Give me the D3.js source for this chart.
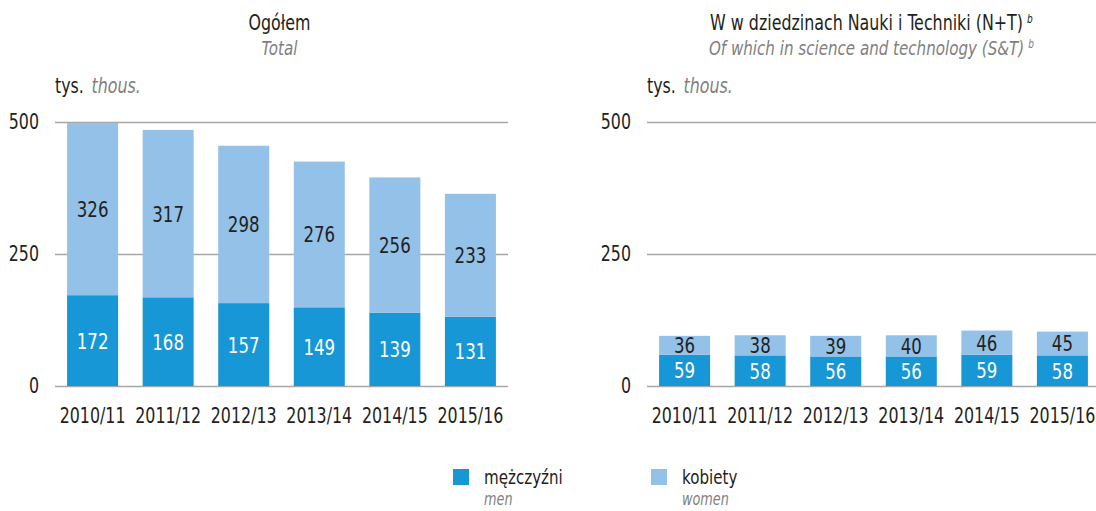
<!DOCTYPE html>
<html>
<head>
<meta charset="utf-8">
<script src="https://cdn.jsdelivr.net/npm/d3@7"></script>
<style>
  body { margin: 0; background: #fff; }
  text { font-family: "DejaVu Sans Condensed", "Liberation Sans Narrow", sans-serif; }
</style>
</head>
<body>
<div class="graph"></div>
<script>
// data
var years = ['2010/11', '2011/12', '2012/13', '2013/14', '2014/15', '2015/16'];
var totalMen = [172, 168, 157, 149, 139, 131];
var totalWomen = [326, 317, 298, 276, 256, 233];
var stMen = [59, 58, 56, 56, 59, 58];
var stWomen = [36, 38, 39, 40, 46, 45];
var yTicks = [0, 250, 500];

var darkBlue = '#1797d6', lightBlue = '#93c1e7';
var ink = '#231f20', grey = '#808080';

// condensed look: squeeze text horizontally
var sx = 0.84
function pos(x, y) { return 'translate(' + x + ',' + y + ') scale(' + sx + ',1)' }

var svg = d3.select('.graph')
    .append('svg')
    .attr('width', 1096)
    .attr('height', 511)

function panel(x0, x1, clipRight, title, subtitle, men, women) {
    var x = d3.scaleBand()
        .domain(years)
        .range([x0, x1])
        .paddingInner(0.325)
        .paddingOuter(0.16)
    var y = d3.scaleLinear()
        .domain([0, 500])
        .range([386, 122])

    var g = svg.append('g')

    // title
    var cx = (x0 + x1) / 2 - 2
    var t = g.append('text')
        .attr('transform', pos(cx, 30))
        .attr('text-anchor', 'middle')
        .style('font-size', '21px').style('fill', ink)
        .text(title.text)
    if (title.sup) t.append('tspan').attr('dy', -7).attr('dx', 5).style('font-size', '12px').style('font-style', 'italic').text(title.sup)
    var s = g.append('text')
        .attr('transform', pos(cx, 55))
        .attr('text-anchor', 'middle')
        .style('font-size', '20px').style('font-style', 'italic').style('fill', grey)
        .text(subtitle.text)
    if (subtitle.sup) s.append('tspan').attr('dy', -7).attr('dx', 5).style('font-size', '12px').text(subtitle.sup)

    // unit
    var u = g.append('text')
        .attr('transform', pos(x0, 93))
        .style('font-size', '21px').style('fill', ink)
        .text('tys.')
    u.append('tspan').attr('dx', 9).style('font-style', 'italic').style('fill', grey).text('thous.')

    // grid
    g.selectAll('.grid')
        .data(yTicks)
        .enter().append('line')
        .attr('x1', x0).attr('x2', clipRight)
        .attr('y1', d => y(d) + 0.5).attr('y2', d => y(d) + 0.5)
        .style('stroke', '#a6a6a6').style('stroke-width', 1.3)
    g.selectAll('.ytick')
        .data(yTicks)
        .enter().append('text')
        .attr('transform', d => pos(x0 - 16, y(d) + 7))
        .attr('text-anchor', 'end')
        .style('font-size', '21px').style('fill', ink)
        .text(d => d)

    // bars
    var rows = years.map((yr, i) => ({ yr: yr, m: men[i], w: women[i] }))
    var b = g.selectAll('.bar').data(rows).enter().append('g')
    b.append('rect')
        .attr('x', d => x(d.yr)).attr('width', x.bandwidth())
        .attr('y', d => y(d.m)).attr('height', d => y(0) - y(d.m))
        .style('fill', darkBlue)
    b.append('rect')
        .attr('x', d => x(d.yr)).attr('width', x.bandwidth())
        .attr('y', d => y(d.m + d.w)).attr('height', d => y(d.m) - y(d.m + d.w))
        .style('fill', lightBlue)
    b.append('text')
        .attr('transform', d => pos(x(d.yr) + x.bandwidth() / 2, (y(0) + y(d.m)) / 2 + 8))
        .attr('text-anchor', 'middle')
        .style('font-size', '22px').style('fill', '#fff')
        .text(d => d.m)
    b.append('text')
        .attr('transform', d => pos(x(d.yr) + x.bandwidth() / 2, (y(d.m) + y(d.m + d.w)) / 2 + 8))
        .attr('text-anchor', 'middle')
        .style('font-size', '22px').style('fill', ink)
        .text(d => d.w)

    // x labels
    g.selectAll('.xl').data(years).enter().append('text')
        .attr('transform', d => pos(x(d) + x.bandwidth() / 2, 423))
        .attr('text-anchor', 'middle')
        .style('font-size', '21px').style('fill', ink)
        .text(d => d)
}

panel(55, 508, 508, { text: 'Ogółem' }, { text: 'Total' }, totalMen, totalWomen)
panel(647, 1100, 1096, { text: 'W w dziedzinach Nauki i Techniki (N+T)', sup: 'b' },
      { text: 'Of which in science and technology (S&T)', sup: 'b' }, stMen, stWomen)

// legend
var legend = [
    { x: 453, color: darkBlue, pl: 'mężczyźni', en: 'men' },
    { x: 651, color: lightBlue, pl: 'kobiety', en: 'women' }
]
var lg = svg.selectAll('.legend').data(legend).enter().append('g')
lg.append('rect')
    .attr('x', d => d.x).attr('y', 469)
    .attr('width', 16).attr('height', 16)
    .style('fill', d => d.color)
lg.append('text')
    .attr('transform', d => pos(d.x + 31, 484))
    .style('font-size', '20px').style('fill', ink)
    .text(d => d.pl)
lg.append('text')
    .attr('transform', d => pos(d.x + 31, 505))
    .style('font-size', '17px').style('font-style', 'italic').style('fill', grey)
    .text(d => d.en)
</script>
</body>
</html>
